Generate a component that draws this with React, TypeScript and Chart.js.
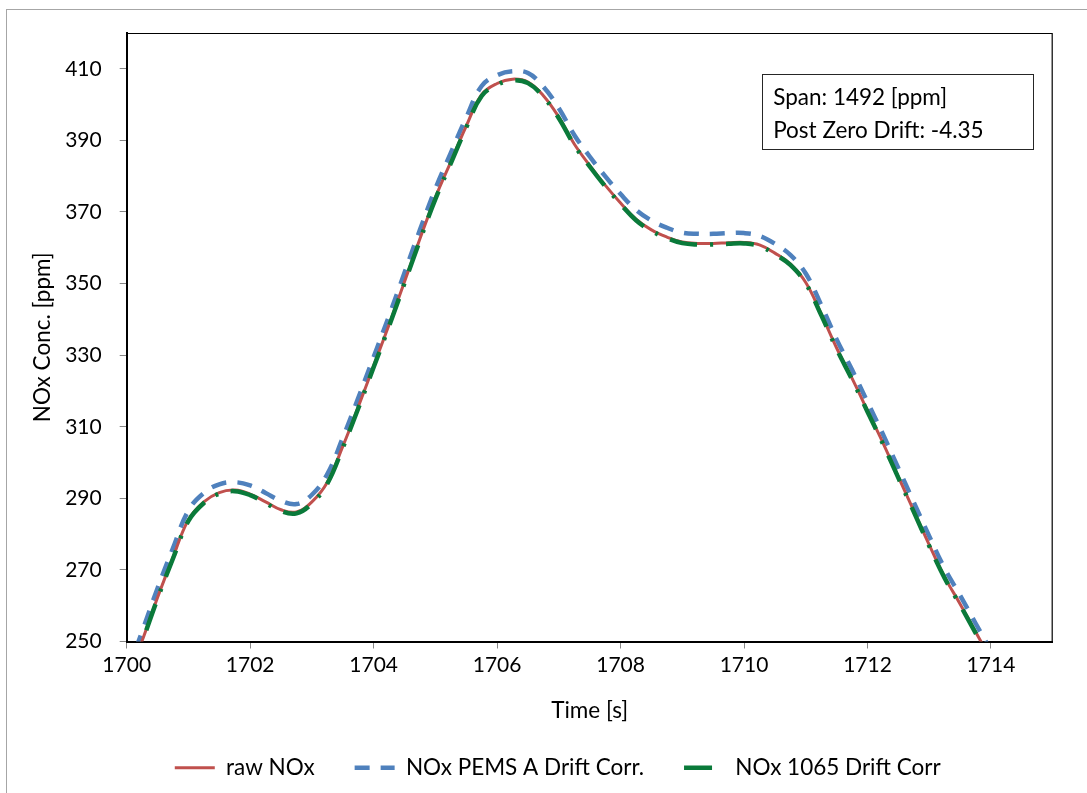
import React, { useEffect, useRef } from 'react';
import { Chart, registerables } from 'chart.js';

Chart.register(...registerables);

// ---------- data ----------
const TIME = [
  1700.0, 1700.25, 1700.5, 1700.75, 1701.0, 1701.25, 1701.5, 1701.75,
  1702.0, 1702.25, 1702.5, 1702.75, 1703.0, 1703.25, 1703.5, 1703.75,
  1704.0, 1704.25, 1704.5, 1704.75, 1705.0, 1705.25, 1705.5, 1705.75,
  1706.0, 1706.25, 1706.5, 1706.75, 1707.0, 1707.25, 1707.5, 1707.75,
  1708.0, 1708.25, 1708.5, 1708.75, 1709.0, 1709.25, 1709.5, 1709.75,
  1710.0, 1710.25, 1710.5, 1710.75, 1711.0, 1711.25, 1711.5, 1711.75,
  1712.0, 1712.25, 1712.5, 1712.75, 1713.0, 1713.25, 1713.5, 1713.75,
  1714.0,
];

const RAW_NOX = [
  238.5, 250.2, 262.3, 273.5, 284.0, 289.0, 291.6, 292.3,
  291.2, 289.0, 286.8, 286.2, 289.0, 294.5, 304.5, 315.5,
  327.0, 338.5, 350.5, 362.5, 374.0, 384.0, 394.0, 402.8,
  405.9, 407.1, 406.3, 402.5, 396.5, 389.0, 383.0, 377.5,
  372.5, 368.0, 365.0, 363.0, 361.6, 361.2, 361.2, 361.4,
  361.5, 360.8, 358.5, 355.5, 350.3, 341.5, 332.0, 323.5,
  314.5, 305.5, 296.0, 286.5, 277.0, 268.0, 260.5, 252.7,
  245.0,
];

const NOX_PEMS_A = [
  241.0, 252.8, 264.9, 276.1, 286.6, 291.5, 293.9, 294.5,
  293.6, 291.5, 289.3, 288.4, 291.0, 296.8, 306.9, 318.0,
  329.5, 341.0, 353.0, 365.0, 376.5, 386.5, 396.4, 405.2,
  408.2, 409.3, 408.8, 405.0, 399.0, 391.5, 385.5, 380.0,
  375.0, 370.6, 367.6, 365.6, 364.2, 363.9, 363.9, 364.1,
  364.1, 363.3, 361.1, 358.0, 352.8, 344.0, 334.4, 325.9,
  316.9, 307.9, 298.4, 288.9, 279.4, 270.4, 262.9, 255.1,
  247.4,
];

const NOX_1065 = [
  238.2, 249.9, 262.0, 273.2, 283.7, 288.7, 291.3, 292.0,
  290.9, 288.7, 286.4, 285.8, 288.6, 294.1, 304.1, 315.1,
  326.6, 338.1, 350.1, 362.1, 373.6, 383.6, 393.6, 402.4,
  405.5, 406.8, 406.0, 402.2, 396.2, 388.7, 382.7, 377.2,
  372.2, 367.7, 364.7, 362.7, 361.3, 360.9, 360.9, 361.1,
  361.2, 360.5, 358.2, 355.2, 350.0, 341.2, 331.7, 323.2,
  314.2, 305.2, 295.7, 286.2, 276.7, 267.7, 260.2, 252.4,
  244.7,
];

const X_TICKS = [1700, 1702, 1704, 1706, 1708, 1710, 1712, 1714];
const Y_TICKS = [250, 270, 290, 310, 330, 350, 370, 390, 410];
const SERIES_LABELS = ['raw NOx', 'NOx PEMS A Drift Corr.', 'NOx 1065 Drift Corr'];
const X_TITLE = 'Time [s]';
const Y_TITLE = 'NOx Conc. [ppm]';
const NOTE_LINES = ['Span: 1492 [ppm]', 'Post Zero Drift: -4.35'];

// ---------- styling ----------
const FONT_FAMILY = 'Lato, "Open Sans", sans-serif';
const TICK_SIZE = 21;
const TEXT_SIZE = 22.5;
const CANVAS_W = 1087;
const CANVAS_H = 830;
const LEGEND_SHIFT = 28;

const toPoints = (ys: number[]) => ys.map((y, i) => ({ x: TIME[i], y }));

const framePlugin = {
  id: 'excelFrame',
  beforeDraw(chart: any) {
    const ctx = chart.ctx;
    ctx.save();
    ctx.fillStyle = '#ffffff';
    ctx.fillRect(0, 0, chart.width, chart.height);
    ctx.strokeStyle = '#A6A6A6';
    ctx.lineWidth = 1;
    ctx.strokeRect(6.5, 9.5, chart.width + 50, chart.height + 50);
    ctx.restore();
  },
  afterLayout(chart: any) {
    if (chart.legend && LEGEND_SHIFT) {
      chart.legend.left += LEGEND_SHIFT;
      chart.legend.right += LEGEND_SHIFT;
    }
  },
  beforeDatasetsDraw(chart: any) {
    const { ctx, chartArea } = chart;
    const { left, top, right, bottom } = chartArea;
    ctx.save();
    ctx.strokeStyle = '#000000';
    ctx.lineWidth = 1.2;
    ctx.beginPath();
    ctx.moveTo(left, top + 0.5);
    ctx.lineTo(right - 0.5, top + 0.5);
    ctx.lineTo(right - 0.5, bottom);
    ctx.stroke();
    ctx.restore();
  },
  afterDatasetsDraw(chart: any) {
    const { ctx, chartArea } = chart;
    const boxW = 271;
    const boxH = 75;
    const bx = chartArea.right - 19.5 - boxW;
    const by = chartArea.top + 41;
    ctx.save();
    ctx.fillStyle = '#ffffff';
    ctx.fillRect(bx, by, boxW, boxH);
    ctx.strokeStyle = '#262626';
    ctx.lineWidth = 1;
    ctx.strokeRect(Math.round(bx) + 0.5, Math.round(by) + 0.5, boxW, boxH);
    ctx.fillStyle = '#000000';
    ctx.font = `${TEXT_SIZE}px ${FONT_FAMILY}`;
    ctx.textAlign = 'left';
    ctx.textBaseline = 'middle';
    NOTE_LINES.forEach((line, i) => {
      ctx.fillText(line, bx + 11, by + 24 + i * 33);
    });
    ctx.restore();
  },
};

export default function App() {
  const canvasRef = useRef<HTMLCanvasElement | null>(null);

  useEffect(() => {
    const canvas = canvasRef.current;
    if (!canvas) return;
    const tickFont = { family: FONT_FAMILY, size: TICK_SIZE };
    const textFont = { family: FONT_FAMILY, size: TEXT_SIZE };
    const chart = new Chart(canvas, {
      type: 'line',
      data: {
        datasets: [
          {
            label: SERIES_LABELS[0],
            data: toPoints(RAW_NOX),
            borderColor: '#C0504D',
            backgroundColor: '#C0504D',
            borderWidth: 3,
            pointRadius: 0,
            tension: 0.4,
            order: 1,
          },
          {
            label: SERIES_LABELS[1],
            data: toPoints(NOX_PEMS_A),
            borderColor: '#4F81BD',
            backgroundColor: '#4F81BD',
            borderWidth: 4.5,
            borderDash: [15, 11],
            pointRadius: 0,
            tension: 0.4,
            order: 2,
          },
          {
            label: SERIES_LABELS[2],
            data: toPoints(NOX_1065),
            borderColor: '#0A7A3A',
            backgroundColor: '#0A7A3A',
            borderWidth: 4.5,
            borderDash: [28, 13, 3, 13],
            pointRadius: 0,
            tension: 0.4,
            order: 0,
          },
        ],
      },
      options: {
        responsive: false,
        animation: false,
        devicePixelRatio: 1,
        parsing: false as any,
        layout: {
          padding: { left: 6.7, right: 34.3, top: 33, bottom: 41 },
        },
        plugins: {
          tooltip: { enabled: false },
          legend: {
            display: true,
            position: 'bottom',
            labels: {
              font: textFont,
              color: '#000000',
              usePointStyle: true,
              pointStyle: 'line',
              pointStyleWidth: 40,
              boxWidth: 40,
              padding: 40,
              generateLabels: (c: any) =>
                c.data.datasets.map((ds: any, i: number) => ({
                  text: ds.label,
                  fillStyle: ds.borderColor,
                  strokeStyle: ds.borderColor,
                  lineWidth: ds.borderWidth,
                  lineDash: ds.borderDash || [],
                  lineCap: 'butt',
                  pointStyle: 'line',
                  hidden: false,
                  datasetIndex: i,
                  fontColor: '#000000',
                })),
            },
          },
        },
        scales: {
          x: {
            type: 'linear',
            min: 1700,
            max: 1715,
            afterBuildTicks: (s: any) => {
              s.ticks = X_TICKS.map((v) => ({ value: v }));
            },
            afterFit: (s: any) => {
              s.height = 75;
            },
            grid: {
              drawOnChartArea: false,
              drawTicks: true,
              tickLength: 7,
              color: '#868686',
              lineWidth: 1,
            },
            border: { color: '#000000', width: 2 },
            ticks: {
              font: tickFont,
              color: '#000000',
              padding: 4,
              maxRotation: 0,
              autoSkip: false,
              callback: (v: any) => String(v),
            },
            title: {
              display: true,
              text: X_TITLE,
              font: textFont,
              color: '#000000',
              padding: { top: 0, bottom: -7.5 },
            },
          },
          y: {
            type: 'linear',
            min: 250,
            max: 420,
            afterBuildTicks: (s: any) => {
              s.ticks = Y_TICKS.map((v) => ({ value: v }));
            },
            afterFit: (s: any) => {
              s.width = 120;
            },
            grid: {
              drawOnChartArea: false,
              drawTicks: true,
              tickLength: 7,
              color: '#868686',
              lineWidth: 1,
            },
            border: { color: '#000000', width: 2 },
            ticks: {
              font: tickFont,
              color: '#000000',
              padding: 18,
              autoSkip: false,
              callback: (v: any) => String(v),
            },
            title: {
              display: true,
              text: Y_TITLE,
              font: textFont,
              color: '#000000',
              padding: { top: 22.3, bottom: 0 },
            },
          },
        },
      },
      plugins: [framePlugin],
    });
    return () => chart.destroy();
  }, []);

  return (
    <div
      style={{
        position: 'fixed',
        left: 0,
        top: 0,
        width: CANVAS_W,
        height: CANVAS_H,
        background: '#ffffff',
      }}
    >
      <canvas
        ref={canvasRef}
        width={CANVAS_W}
        height={CANVAS_H}
        style={{ display: 'block', width: CANVAS_W, height: CANVAS_H }}
      />
    </div>
  );
}
